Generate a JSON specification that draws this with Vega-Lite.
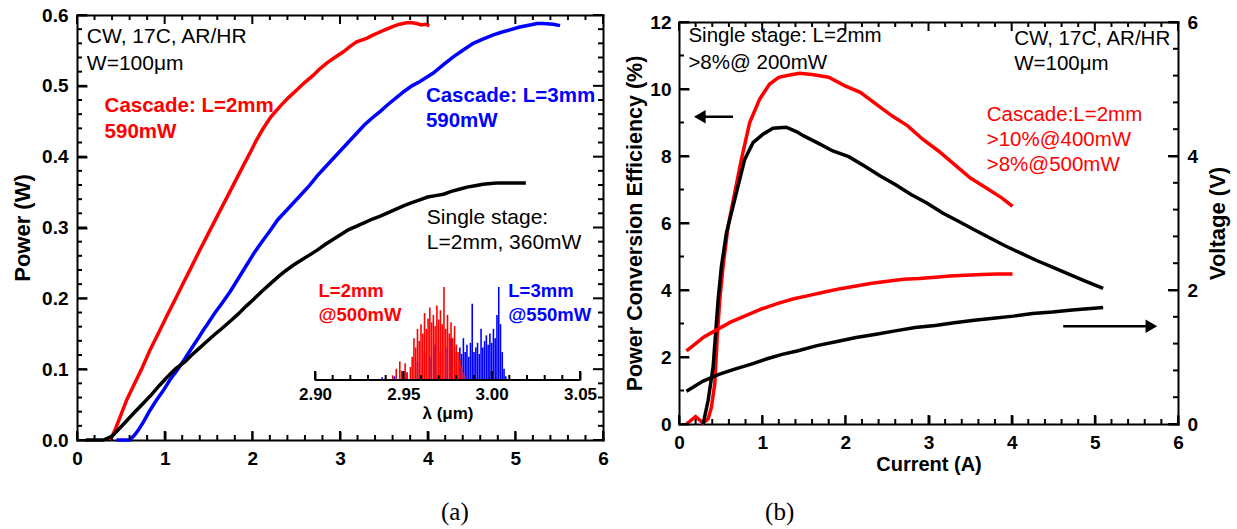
{
"$schema":"https://vega.github.io/schema/vega-lite/v6.json",
"background":"white",
"width":1237,"height":529,
"autosize":{"type":"none"},
"padding":0,
"config":{
  "font":"Liberation Sans",
  "view":{"stroke":null},
  "axis":{"grid":false,"zindex":1,"tickColor":"black","tickWidth":2,"domainColor":"black","domainWidth":2,"domainCap":"square","labelFont":"Liberation Sans","labelFontSize":19,"labelFontWeight":"bold","labelColor":"black","titleFont":"Liberation Sans","titleFontSize":22,"titleFontWeight":"bold","titleColor":"black"},
  "text":{"font":"Liberation Sans"}
},
"datasets":{
  "xmaj":[{"x":0},{"x":1},{"x":2},{"x":3},{"x":4},{"x":5},{"x":6}],
  "xmin":[{"x":0.2},{"x":0.4},{"x":0.6},{"x":0.8},{"x":1.2},{"x":1.4},{"x":1.6},{"x":1.8},{"x":2.2},{"x":2.4},{"x":2.6},{"x":2.8},{"x":3.2},{"x":3.4},{"x":3.6},{"x":3.8},{"x":4.2},{"x":4.4},{"x":4.6},{"x":4.8},{"x":5.2},{"x":5.4},{"x":5.6},{"x":5.8}],
  "yamaj":[{"y":0},{"y":0.1},{"y":0.2},{"y":0.3},{"y":0.4},{"y":0.5},{"y":0.6}],
  "yamin":[{"y":0.02},{"y":0.04},{"y":0.06},{"y":0.08},{"y":0.12},{"y":0.14},{"y":0.16},{"y":0.18},{"y":0.22},{"y":0.24},{"y":0.26},{"y":0.28},{"y":0.32},{"y":0.34},{"y":0.36},{"y":0.38},{"y":0.42},{"y":0.44},{"y":0.46},{"y":0.48},{"y":0.52},{"y":0.54},{"y":0.56},{"y":0.58}],
  "ybmaj":[{"y":0},{"y":2},{"y":4},{"y":6},{"y":8},{"y":10},{"y":12}],
  "ybmin":[{"y":1},{"y":3},{"y":5},{"y":7},{"y":9},{"y":11}],
  "ybrmaj":[{"y":0},{"y":4},{"y":8},{"y":12}],
  "ybrmin":[{"y":0.8},{"y":1.6},{"y":2.4},{"y":3.2},{"y":4.8},{"y":5.6},{"y":6.4},{"y":7.2},{"y":8.8},{"y":9.6},{"y":10.4},{"y":11.2}],
  "lmaj":[{"lam":2.9},{"lam":2.95},{"lam":3.0},{"lam":3.05}],
  "lmin":[{"lam":2.91},{"lam":2.92},{"lam":2.93},{"lam":2.94},{"lam":2.96},{"lam":2.97},{"lam":2.98},{"lam":2.99},{"lam":3.01},{"lam":3.02},{"lam":3.03},{"lam":3.04}],
  "curvesA":[
    {"s":"red","x":0.38,"y":0.0},{"s":"red","x":0.433,"y":0.014},{"s":"red","x":0.5,"y":0.035},{"s":"red","x":0.567,"y":0.0565},{"s":"red","x":0.65,"y":0.078},{"s":"red","x":0.74,"y":0.101},{"s":"red","x":0.833,"y":0.127},{"s":"red","x":0.93,"y":0.151},{"s":"red","x":1.02,"y":0.174},{"s":"red","x":1.118,"y":0.198},{"s":"red","x":1.21,"y":0.221},{"s":"red","x":1.3,"y":0.243},{"s":"red","x":1.4,"y":0.268},{"s":"red","x":1.5,"y":0.292},{"s":"red","x":1.6,"y":0.316},{"s":"red","x":1.7,"y":0.34},{"s":"red","x":1.8,"y":0.364},{"s":"red","x":1.9,"y":0.388},{"s":"red","x":1.98,"y":0.407},{"s":"red","x":2.05,"y":0.424},{"s":"red","x":2.12,"y":0.439},{"s":"red","x":2.21,"y":0.456},{"s":"red","x":2.316,"y":0.471},{"s":"red","x":2.41,"y":0.483},{"s":"red","x":2.506,"y":0.494},{"s":"red","x":2.6,"y":0.505},{"s":"red","x":2.696,"y":0.515},{"s":"red","x":2.77,"y":0.524},{"s":"red","x":2.848,"y":0.532},{"s":"red","x":2.94,"y":0.54},{"s":"red","x":3.038,"y":0.548},{"s":"red","x":3.12,"y":0.556},{"s":"red","x":3.19,"y":0.562},{"s":"red","x":3.304,"y":0.567},{"s":"red","x":3.38,"y":0.572},{"s":"red","x":3.456,"y":0.576},{"s":"red","x":3.53,"y":0.58},{"s":"red","x":3.608,"y":0.584},{"s":"red","x":3.68,"y":0.587},{"s":"red","x":3.76,"y":0.589},{"s":"red","x":3.82,"y":0.589},{"s":"red","x":3.875,"y":0.588},{"s":"red","x":3.93,"y":0.586},{"s":"red","x":3.97,"y":0.587},{"s":"red","x":4.02,"y":0.585},
    {"s":"blue","x":0.45,"y":0.0},{"s":"blue","x":0.6,"y":0.0},{"s":"blue","x":0.65,"y":0.006},{"s":"blue","x":0.7,"y":0.014},{"s":"blue","x":0.76,"y":0.026},{"s":"blue","x":0.833,"y":0.042},{"s":"blue","x":0.9,"y":0.055},{"s":"blue","x":0.98,"y":0.069},{"s":"blue","x":1.061,"y":0.085},{"s":"blue","x":1.15,"y":0.1},{"s":"blue","x":1.232,"y":0.115},{"s":"blue","x":1.32,"y":0.132},{"s":"blue","x":1.39,"y":0.145},{"s":"blue","x":1.44,"y":0.155},{"s":"blue","x":1.48,"y":0.162},{"s":"blue","x":1.57,"y":0.179},{"s":"blue","x":1.66,"y":0.194},{"s":"blue","x":1.75,"y":0.21},{"s":"blue","x":1.84,"y":0.228},{"s":"blue","x":1.93,"y":0.246},{"s":"blue","x":2.02,"y":0.264},{"s":"blue","x":2.11,"y":0.28},{"s":"blue","x":2.2,"y":0.295},{"s":"blue","x":2.29,"y":0.311},{"s":"blue","x":2.38,"y":0.323},{"s":"blue","x":2.47,"y":0.335},{"s":"blue","x":2.56,"y":0.347},{"s":"blue","x":2.65,"y":0.359},{"s":"blue","x":2.74,"y":0.373},{"s":"blue","x":2.83,"y":0.385},{"s":"blue","x":2.92,"y":0.397},{"s":"blue","x":3.01,"y":0.409},{"s":"blue","x":3.1,"y":0.421},{"s":"blue","x":3.19,"y":0.433},{"s":"blue","x":3.28,"y":0.445},{"s":"blue","x":3.37,"y":0.455},{"s":"blue","x":3.46,"y":0.464},{"s":"blue","x":3.55,"y":0.474},{"s":"blue","x":3.64,"y":0.483},{"s":"blue","x":3.73,"y":0.492},{"s":"blue","x":3.82,"y":0.5},{"s":"blue","x":3.912,"y":0.506},{"s":"blue","x":4.064,"y":0.518},{"s":"blue","x":4.18,"y":0.53},{"s":"blue","x":4.292,"y":0.541},{"s":"blue","x":4.41,"y":0.551},{"s":"blue","x":4.52,"y":0.56},{"s":"blue","x":4.63,"y":0.566},{"s":"blue","x":4.749,"y":0.572},{"s":"blue","x":4.85,"y":0.576},{"s":"blue","x":4.939,"y":0.579},{"s":"blue","x":5.05,"y":0.583},{"s":"blue","x":5.167,"y":0.586},{"s":"blue","x":5.25,"y":0.588},{"s":"blue","x":5.319,"y":0.588},{"s":"blue","x":5.433,"y":0.587},{"s":"blue","x":5.51,"y":0.585},
    {"s":"black","x":0.1,"y":0.0},{"s":"black","x":0.2,"y":0.0},{"s":"black","x":0.3,"y":0.0},{"s":"black","x":0.396,"y":0.005},{"s":"black","x":0.49,"y":0.017},{"s":"black","x":0.58,"y":0.029},{"s":"black","x":0.67,"y":0.041},{"s":"black","x":0.756,"y":0.052},{"s":"black","x":0.85,"y":0.064},{"s":"black","x":0.94,"y":0.077},{"s":"black","x":1.03,"y":0.089},{"s":"black","x":1.12,"y":0.1},{"s":"black","x":1.232,"y":0.1106},{"s":"black","x":1.3,"y":0.119},{"s":"black","x":1.39,"y":0.129},{"s":"black","x":1.48,"y":0.139},{"s":"black","x":1.57,"y":0.149},{"s":"black","x":1.63,"y":0.155},{"s":"black","x":1.75,"y":0.168},{"s":"black","x":1.84,"y":0.178},{"s":"black","x":1.93,"y":0.189},{"s":"black","x":2.01,"y":0.198},{"s":"black","x":2.11,"y":0.21},{"s":"black","x":2.2,"y":0.22},{"s":"black","x":2.29,"y":0.23},{"s":"black","x":2.38,"y":0.239},{"s":"black","x":2.47,"y":0.247},{"s":"black","x":2.56,"y":0.254},{"s":"black","x":2.65,"y":0.261},{"s":"black","x":2.74,"y":0.268},{"s":"black","x":2.83,"y":0.276},{"s":"black","x":2.92,"y":0.283},{"s":"black","x":3.01,"y":0.29},{"s":"black","x":3.1,"y":0.297},{"s":"black","x":3.19,"y":0.302},{"s":"black","x":3.28,"y":0.307},{"s":"black","x":3.37,"y":0.312},{"s":"black","x":3.46,"y":0.316},{"s":"black","x":3.55,"y":0.321},{"s":"black","x":3.64,"y":0.326},{"s":"black","x":3.73,"y":0.331},{"s":"black","x":3.82,"y":0.335},{"s":"black","x":3.91,"y":0.339},{"s":"black","x":4.0,"y":0.343},{"s":"black","x":4.09,"y":0.345},{"s":"black","x":4.18,"y":0.347},{"s":"black","x":4.27,"y":0.351},{"s":"black","x":4.36,"y":0.354},{"s":"black","x":4.45,"y":0.357},{"s":"black","x":4.54,"y":0.359},{"s":"black","x":4.63,"y":0.361},{"s":"black","x":4.72,"y":0.362},{"s":"black","x":4.81,"y":0.363},{"s":"black","x":4.9,"y":0.363},{"s":"black","x":5.0,"y":0.363},{"s":"black","x":5.12,"y":0.363}
  ],
  "spectra":[
    {"s":"blue","lam":2.938,"h":0.03},{"s":"blue","lam":2.945,"h":0.04},{"s":"blue","lam":2.952,"h":0.08},{"s":"blue","lam":2.958,"h":0.2},{"s":"blue","lam":2.962,"h":0.3},{"s":"blue","lam":2.965,"h":0.25},{"s":"blue","lam":2.968,"h":0.38},{"s":"blue","lam":2.971,"h":0.3},{"s":"blue","lam":2.974,"h":0.35},{"s":"blue","lam":2.977,"h":0.45},{"s":"blue","lam":2.98,"h":0.3},{"s":"blue","lam":2.982,"h":0.35},{"s":"blue","lam":2.983,"h":0.28},{"s":"blue","lam":2.984,"h":0.45},{"s":"blue","lam":2.985,"h":0.3},{"s":"blue","lam":2.986,"h":0.38},{"s":"blue","lam":2.987,"h":0.25},{"s":"blue","lam":2.988,"h":0.4},{"s":"blue","lam":2.989,"h":0.82},{"s":"blue","lam":2.99,"h":0.3},{"s":"blue","lam":2.991,"h":0.35},{"s":"blue","lam":2.992,"h":0.4},{"s":"blue","lam":2.993,"h":0.28},{"s":"blue","lam":2.994,"h":0.55},{"s":"blue","lam":2.995,"h":0.35},{"s":"blue","lam":2.996,"h":0.42},{"s":"blue","lam":2.997,"h":0.48},{"s":"blue","lam":2.998,"h":0.38},{"s":"blue","lam":2.999,"h":0.5},{"s":"blue","lam":3.0,"h":0.4},{"s":"blue","lam":3.001,"h":0.55},{"s":"blue","lam":3.002,"h":0.45},{"s":"blue","lam":3.003,"h":0.7},{"s":"blue","lam":3.004,"h":1.0},{"s":"blue","lam":3.005,"h":0.6},{"s":"blue","lam":3.006,"h":0.3},{"s":"blue","lam":3.007,"h":0.12},{"s":"blue","lam":3.008,"h":0.04},
    {"s":"red","lam":2.944,"h":0.05},{"s":"red","lam":2.946,"h":0.12},{"s":"red","lam":2.948,"h":0.2},{"s":"red","lam":2.949,"h":0.1},{"s":"red","lam":2.951,"h":0.18},{"s":"red","lam":2.952,"h":0.08},{"s":"red","lam":2.954,"h":0.14},{"s":"red","lam":2.955,"h":0.25},{"s":"red","lam":2.956,"h":0.45},{"s":"red","lam":2.957,"h":0.35},{"s":"red","lam":2.958,"h":0.55},{"s":"red","lam":2.959,"h":0.42},{"s":"red","lam":2.96,"h":0.6},{"s":"red","lam":2.961,"h":0.5},{"s":"red","lam":2.962,"h":0.72},{"s":"red","lam":2.963,"h":0.55},{"s":"red","lam":2.964,"h":0.66},{"s":"red","lam":2.965,"h":0.78},{"s":"red","lam":2.966,"h":0.62},{"s":"red","lam":2.967,"h":0.7},{"s":"red","lam":2.968,"h":0.58},{"s":"red","lam":2.969,"h":0.8},{"s":"red","lam":2.97,"h":0.65},{"s":"red","lam":2.971,"h":0.75},{"s":"red","lam":2.972,"h":0.6},{"s":"red","lam":2.973,"h":1.0},{"s":"red","lam":2.974,"h":0.55},{"s":"red","lam":2.975,"h":0.7},{"s":"red","lam":2.976,"h":0.5},{"s":"red","lam":2.977,"h":0.62},{"s":"red","lam":2.978,"h":0.45},{"s":"red","lam":2.979,"h":0.58},{"s":"red","lam":2.98,"h":0.38},{"s":"red","lam":2.981,"h":0.3},{"s":"red","lam":2.982,"h":0.22},{"s":"red","lam":2.983,"h":0.15},{"s":"red","lam":2.984,"h":0.08},{"s":"red","lam":2.985,"h":0.04}
  ],
  "curvesB":[
    {"s":"red","x":0.09,"y":0},{"s":"red","x":0.2,"y":0.22},{"s":"red","x":0.29,"y":0.03},{"s":"red","x":0.35,"y":0.15},{"s":"red","x":0.39,"y":0.5},{"s":"red","x":0.43,"y":1.2},{"s":"red","x":0.46,"y":2.6},{"s":"red","x":0.49,"y":3.7},{"s":"red","x":0.53,"y":4.7},{"s":"red","x":0.59,"y":5.9},{"s":"red","x":0.67,"y":6.9},{"s":"red","x":0.75,"y":7.9},{"s":"red","x":0.85,"y":9.0},{"s":"red","x":0.97,"y":9.7},{"s":"red","x":1.09,"y":10.15},{"s":"red","x":1.2,"y":10.35},{"s":"red","x":1.33,"y":10.42},{"s":"red","x":1.45,"y":10.47},{"s":"red","x":1.6,"y":10.43},{"s":"red","x":1.8,"y":10.35},{"s":"red","x":1.99,"y":10.1},{"s":"red","x":2.18,"y":9.9},{"s":"red","x":2.37,"y":9.55},{"s":"red","x":2.56,"y":9.2},{"s":"red","x":2.75,"y":8.9},{"s":"red","x":2.93,"y":8.5},{"s":"red","x":3.12,"y":8.15},{"s":"red","x":3.31,"y":7.75},{"s":"red","x":3.5,"y":7.35},{"s":"red","x":3.69,"y":7.05},{"s":"red","x":3.88,"y":6.75},{"s":"red","x":4.01,"y":6.5},
    {"s":"black","x":0.29,"y":0},{"s":"black","x":0.35,"y":0.7},{"s":"black","x":0.41,"y":1.7},{"s":"black","x":0.47,"y":3.7},{"s":"black","x":0.51,"y":4.7},{"s":"black","x":0.57,"y":5.7},{"s":"black","x":0.63,"y":6.3},{"s":"black","x":0.71,"y":7.1},{"s":"black","x":0.79,"y":7.9},{"s":"black","x":0.89,"y":8.4},{"s":"black","x":1.01,"y":8.65},{"s":"black","x":1.13,"y":8.83},{"s":"black","x":1.29,"y":8.86},{"s":"black","x":1.41,"y":8.73},{"s":"black","x":1.5,"y":8.6},{"s":"black","x":1.66,"y":8.4},{"s":"black","x":1.85,"y":8.15},{"s":"black","x":2.04,"y":7.98},{"s":"black","x":2.23,"y":7.7},{"s":"black","x":2.42,"y":7.4},{"s":"black","x":2.6,"y":7.15},{"s":"black","x":2.79,"y":6.85},{"s":"black","x":2.98,"y":6.6},{"s":"black","x":3.17,"y":6.3},{"s":"black","x":3.36,"y":6.05},{"s":"black","x":3.55,"y":5.8},{"s":"black","x":3.74,"y":5.55},{"s":"black","x":3.92,"y":5.32},{"s":"black","x":4.11,"y":5.1},{"s":"black","x":4.3,"y":4.88},{"s":"black","x":4.49,"y":4.68},{"s":"black","x":4.68,"y":4.48},{"s":"black","x":4.87,"y":4.28},{"s":"black","x":5.1,"y":4.05}
  ],
  "voltB":[
    {"s":"red","I":0.09,"V":1.09},{"s":"red","I":0.2,"V":1.2},{"s":"red","I":0.3,"V":1.3},{"s":"red","I":0.43,"V":1.39},{"s":"red","I":0.62,"V":1.52},{"s":"red","I":0.81,"V":1.62},{"s":"red","I":1.0,"V":1.72},{"s":"red","I":1.19,"V":1.8},{"s":"red","I":1.38,"V":1.87},{"s":"red","I":1.57,"V":1.92},{"s":"red","I":1.75,"V":1.97},{"s":"red","I":1.94,"V":2.02},{"s":"red","I":2.13,"V":2.06},{"s":"red","I":2.32,"V":2.1},{"s":"red","I":2.51,"V":2.13},{"s":"red","I":2.7,"V":2.16},{"s":"red","I":2.89,"V":2.17},{"s":"red","I":3.08,"V":2.19},{"s":"red","I":3.26,"V":2.21},{"s":"red","I":3.45,"V":2.22},{"s":"red","I":3.64,"V":2.23},{"s":"red","I":3.83,"V":2.24},{"s":"red","I":4.01,"V":2.24},
    {"s":"black","I":0.09,"V":0.49},{"s":"black","I":0.29,"V":0.64},{"s":"black","I":0.48,"V":0.74},{"s":"black","I":0.67,"V":0.82},{"s":"black","I":0.86,"V":0.89},{"s":"black","I":1.05,"V":0.97},{"s":"black","I":1.24,"V":1.04},{"s":"black","I":1.42,"V":1.09},{"s":"black","I":1.66,"V":1.17},{"s":"black","I":1.9,"V":1.23},{"s":"black","I":2.13,"V":1.29},{"s":"black","I":2.37,"V":1.34},{"s":"black","I":2.6,"V":1.39},{"s":"black","I":2.84,"V":1.44},{"s":"black","I":3.08,"V":1.47},{"s":"black","I":3.31,"V":1.51},{"s":"black","I":3.55,"V":1.55},{"s":"black","I":3.78,"V":1.58},{"s":"black","I":4.02,"V":1.61},{"s":"black","I":4.25,"V":1.65},{"s":"black","I":4.49,"V":1.67},{"s":"black","I":4.73,"V":1.7},{"s":"black","I":5.1,"V":1.74}
  ]
},
"layer":[
 {"layer":[
   {"data":{"name":"curvesA"},"mark":{"type":"line","strokeWidth":3.5},
    "encoding":{
     "x":{"field":"x","type":"quantitative","scale":{"domain":[0,6],"range":[77,603],"nice":false,"zero":false},
          "axis":{"orient":"bottom","title":null,"domain":false,"labelFlush":false,"values":[0,1,2,3,4,5,6],"format":"d","offset":-98,"tickSize":9,"labelPadding":9}},
     "y":{"field":"y","type":"quantitative","scale":{"domain":[0,0.6],"range":[440,15],"nice":false,"zero":false},
          "axis":{"orient":"left","title":"Power (W)","domain":false,"values":[0,0.1,0.2,0.3,0.4,0.5,0.6],"format":".1f","offset":-87,"tickSize":10,"labelPadding":9,"titlePadding":7}},
     "color":{"field":"s","type":"nominal","scale":{"domain":["red","blue","black"],"range":["#ff0000","#0000ff","#000000"]},"legend":null}
    }},
   {"data":{"name":"xmaj"},"mark":{"type":"rule","color":"black","strokeWidth":2},
    "encoding":{"x":{"field":"x","type":"quantitative","scale":{"domain":[0,6],"range":[77,603],"nice":false,"zero":false}},"y":{"datum":0,"type":"quantitative","scale":{"domain":[0,0.6],"range":[440,15],"nice":false,"zero":false}},"y2":{"datum":0.0127}}},
   {"data":{"name":"xmin"},"mark":{"type":"rule","color":"black","strokeWidth":2},
    "encoding":{"x":{"field":"x","type":"quantitative","scale":{"domain":[0,6],"range":[77,603],"nice":false,"zero":false}},"y":{"datum":0,"type":"quantitative","scale":{"domain":[0,0.6],"range":[440,15],"nice":false,"zero":false}},"y2":{"datum":0.00706}}},
   {"data":{"name":"xmaj"},"mark":{"type":"rule","color":"black","strokeWidth":2},
    "encoding":{"x":{"field":"x","type":"quantitative","scale":{"domain":[0,6],"range":[77,603],"nice":false,"zero":false}},"y":{"datum":0.6,"type":"quantitative","scale":{"domain":[0,0.6],"range":[440,15],"nice":false,"zero":false}},"y2":{"datum":0.5873}}},
   {"data":{"name":"xmin"},"mark":{"type":"rule","color":"black","strokeWidth":2},
    "encoding":{"x":{"field":"x","type":"quantitative","scale":{"domain":[0,6],"range":[77,603],"nice":false,"zero":false}},"y":{"datum":0.6,"type":"quantitative","scale":{"domain":[0,0.6],"range":[440,15],"nice":false,"zero":false}},"y2":{"datum":0.59294}}},
   {"data":{"name":"yamaj"},"mark":{"type":"rule","color":"black","strokeWidth":2},
    "encoding":{"y":{"field":"y","type":"quantitative","scale":{"domain":[0,0.6],"range":[440,15],"nice":false,"zero":false}},"x":{"datum":0,"type":"quantitative","scale":{"domain":[0,6],"range":[77,603],"nice":false,"zero":false}},"x2":{"datum":0.1141}}},
   {"data":{"name":"yamin"},"mark":{"type":"rule","color":"black","strokeWidth":2},
    "encoding":{"y":{"field":"y","type":"quantitative","scale":{"domain":[0,0.6],"range":[440,15],"nice":false,"zero":false}},"x":{"datum":0,"type":"quantitative","scale":{"domain":[0,6],"range":[77,603],"nice":false,"zero":false}},"x2":{"datum":0.057}}},
   {"data":{"name":"yamaj"},"mark":{"type":"rule","color":"black","strokeWidth":2},
    "encoding":{"y":{"field":"y","type":"quantitative","scale":{"domain":[0,0.6],"range":[440,15],"nice":false,"zero":false}},"x":{"datum":6,"type":"quantitative","scale":{"domain":[0,6],"range":[77,603],"nice":false,"zero":false}},"x2":{"datum":5.8859}}},
   {"data":{"name":"yamin"},"mark":{"type":"rule","color":"black","strokeWidth":2},
    "encoding":{"y":{"field":"y","type":"quantitative","scale":{"domain":[0,0.6],"range":[440,15],"nice":false,"zero":false}},"x":{"datum":6,"type":"quantitative","scale":{"domain":[0,6],"range":[77,603],"nice":false,"zero":false}},"x2":{"datum":5.943}}},
   {"data":{"values":[{"t":"CW, 17C, AR/HR","x":0.112,"y":0.569},{"t":"W=100μm","x":0.112,"y":0.531},{"t":"Single stage:","x":3.99,"y":0.314},{"t":"L=2mm, 360mW","x":3.99,"y":0.278}]},
    "mark":{"type":"text","align":"left","baseline":"middle","fontSize":21,"color":"black"},
    "encoding":{"x":{"field":"x","type":"quantitative","scale":{"domain":[0,6],"range":[77,603],"nice":false,"zero":false}},"y":{"field":"y","type":"quantitative","scale":{"domain":[0,0.6],"range":[440,15],"nice":false,"zero":false}},"text":{"field":"t"}}},
   {"data":{"values":[{"t":"Cascade: L=2mm","x":0.315,"y":0.471},{"t":"590mW","x":0.315,"y":0.435}]},
    "mark":{"type":"text","align":"left","baseline":"middle","fontSize":20.5,"fontWeight":"bold","color":"#ff0000"},
    "encoding":{"x":{"field":"x","type":"quantitative","scale":{"domain":[0,6],"range":[77,603],"nice":false,"zero":false}},"y":{"field":"y","type":"quantitative","scale":{"domain":[0,0.6],"range":[440,15],"nice":false,"zero":false}},"text":{"field":"t"}}},
   {"data":{"values":[{"t":"Cascade: L=3mm","x":3.98,"y":0.485},{"t":"590mW","x":3.98,"y":0.45}]},
    "mark":{"type":"text","align":"left","baseline":"middle","fontSize":20.5,"fontWeight":"bold","color":"#0000ff"},
    "encoding":{"x":{"field":"x","type":"quantitative","scale":{"domain":[0,6],"range":[77,603],"nice":false,"zero":false}},"y":{"field":"y","type":"quantitative","scale":{"domain":[0,0.6],"range":[440,15],"nice":false,"zero":false}},"text":{"field":"t"}}},
   {"data":{"values":[{"t":"L=2mm","x":2.755,"y":0.211},{"t":"@500mW","x":2.755,"y":0.176}]},
    "mark":{"type":"text","align":"left","baseline":"middle","fontSize":18.5,"fontWeight":"bold","color":"#ff0000"},
    "encoding":{"x":{"field":"x","type":"quantitative","scale":{"domain":[0,6],"range":[77,603],"nice":false,"zero":false}},"y":{"field":"y","type":"quantitative","scale":{"domain":[0,0.6],"range":[440,15],"nice":false,"zero":false}},"text":{"field":"t"}}},
   {"data":{"values":[{"t":"L=3mm","x":4.92,"y":0.211},{"t":"@550mW","x":4.92,"y":0.176}]},
    "mark":{"type":"text","align":"left","baseline":"middle","fontSize":18.5,"fontWeight":"bold","color":"#0000ff"},
    "encoding":{"x":{"field":"x","type":"quantitative","scale":{"domain":[0,6],"range":[77,603],"nice":false,"zero":false}},"y":{"field":"y","type":"quantitative","scale":{"domain":[0,0.6],"range":[440,15],"nice":false,"zero":false}},"text":{"field":"t"}}},
   {"data":{"values":[{"t":"(a)","x":4.31,"y":-0.102}]},
    "mark":{"type":"text","align":"center","baseline":"middle","fontSize":25,"font":"Liberation Serif","color":"black"},
    "encoding":{"x":{"field":"x","type":"quantitative","scale":{"domain":[0,6],"range":[77,603],"nice":false,"zero":false}},"y":{"field":"y","type":"quantitative","scale":{"domain":[0,0.6],"range":[440,15],"nice":false,"zero":false}},"text":{"field":"t"}}}
 ]},
 {"data":{"values":[{"x":0,"y":0}]},"mark":{"type":"point","opacity":0},
  "encoding":{
   "x":{"field":"x","type":"quantitative","scale":{"domain":[0,6],"range":[77,603],"nice":false,"zero":false},
        "axis":{"orient":"bottom","title":null,"domain":true,"ticks":false,"labels":false,"offset":-89}},
   "y":{"field":"y","type":"quantitative","scale":{"domain":[0,0.6],"range":[440,15],"nice":false,"zero":false},
        "axis":{"orient":"left","title":null,"domain":true,"ticks":false,"labels":false,"offset":-77}}
  }},
 {"data":{"values":[{"x":0,"y":0}]},"mark":{"type":"point","opacity":0},
  "encoding":{
   "x":{"field":"x","type":"quantitative","scale":{"domain":[0,6],"range":[77,603],"nice":false,"zero":false},
        "axis":{"orient":"top","title":null,"domain":true,"ticks":false,"labels":false,"offset":-15}},
   "y":{"field":"y","type":"quantitative","scale":{"domain":[0,0.6],"range":[440,15],"nice":false,"zero":false},
        "axis":{"orient":"right","title":null,"domain":true,"ticks":false,"labels":false,"offset":-634}}
  }},
 {"layer":[
   {"data":{"name":"spectra"},"mark":{"type":"rule","strokeWidth":1.6},
    "encoding":{
     "x":{"field":"lam","type":"quantitative","scale":{"domain":[2.9,3.05],"range":[315,580],"nice":false,"zero":false},
          "axis":{"orient":"bottom","title":"λ (μm)","domain":false,"labelFlush":false,"values":[2.9,2.95,3,3.05],"format":".2f","offset":-158,"tickSize":9,"labelPadding":6,"labelFontSize":17,"titleFontSize":17,"titlePadding":3}},
     "y":{"field":"h","type":"quantitative","scale":{"domain":[0,1],"range":[380,287],"nice":false,"zero":false},"axis":null},
     "y2":{"datum":0},
     "color":{"field":"s","type":"nominal","scale":{"domain":["red","blue","black"],"range":["#ff0000","#0000ff","#000000"]},"legend":null}
    }},
   {"data":{"values":[{}]},"mark":{"type":"rule","strokeWidth":2,"color":"black"},
    "encoding":{"x":{"datum":2.9,"type":"quantitative","scale":{"domain":[2.9,3.05],"range":[315,580],"nice":false,"zero":false}},"x2":{"datum":3.05},
                "y":{"datum":0,"type":"quantitative","scale":{"domain":[0,1],"range":[380,287],"nice":false,"zero":false}}}},
   {"data":{"name":"lmaj"},"mark":{"type":"rule","color":"black","strokeWidth":2},
    "encoding":{"x":{"field":"lam","type":"quantitative","scale":{"domain":[2.9,3.05],"range":[315,580],"nice":false,"zero":false}},"y":{"datum":0,"type":"quantitative","scale":{"domain":[0,1],"range":[380,287],"nice":false,"zero":false}},"y2":{"datum":0.0968}}},
   {"data":{"name":"lmin"},"mark":{"type":"rule","color":"black","strokeWidth":2},
    "encoding":{"x":{"field":"lam","type":"quantitative","scale":{"domain":[2.9,3.05],"range":[315,580],"nice":false,"zero":false}},"y":{"datum":0,"type":"quantitative","scale":{"domain":[0,1],"range":[380,287],"nice":false,"zero":false}},"y2":{"datum":0.0538}}}
 ]},
 {"layer":[
   {"data":{"name":"curvesB"},"mark":{"type":"line","strokeWidth":3.5},
    "encoding":{
     "x":{"field":"x","type":"quantitative","scale":{"domain":[0,6],"range":[679,1178],"nice":false,"zero":false},
          "axis":{"orient":"bottom","title":"Current (A)","domain":false,"labelFlush":false,"titleFontSize":20,"values":[0,1,2,3,4,5,6],"format":"d","offset":-114,"tickSize":9,"labelPadding":9,"titlePadding":2}},
     "y":{"field":"y","type":"quantitative","scale":{"domain":[0,12],"range":[424,22],"nice":false,"zero":false},
          "axis":{"orient":"left","title":"Power Conversion Efficiency (%)","domain":false,"titleFontSize":21.5,"values":[0,2,4,6,8,10,12],"format":"d","offset":-689,"tickSize":10,"labelPadding":8,"titlePadding":3}},
     "color":{"field":"s","type":"nominal","scale":{"domain":["red","blue","black"],"range":["#ff0000","#0000ff","#000000"]},"legend":null}
    }},
   {"data":{"name":"xmaj"},"mark":{"type":"rule","color":"black","strokeWidth":2},
    "encoding":{"x":{"field":"x","type":"quantitative","scale":{"domain":[0,6],"range":[679,1178],"nice":false,"zero":false}},"y":{"datum":0,"type":"quantitative","scale":{"domain":[0,12],"range":[424,22],"nice":false,"zero":false}},"y2":{"datum":0.2687}}},
   {"data":{"name":"xmin"},"mark":{"type":"rule","color":"black","strokeWidth":2},
    "encoding":{"x":{"field":"x","type":"quantitative","scale":{"domain":[0,6],"range":[679,1178],"nice":false,"zero":false}},"y":{"datum":0,"type":"quantitative","scale":{"domain":[0,12],"range":[424,22],"nice":false,"zero":false}},"y2":{"datum":0.1493}}},
   {"data":{"name":"xmaj"},"mark":{"type":"rule","color":"black","strokeWidth":2},
    "encoding":{"x":{"field":"x","type":"quantitative","scale":{"domain":[0,6],"range":[679,1178],"nice":false,"zero":false}},"y":{"datum":12,"type":"quantitative","scale":{"domain":[0,12],"range":[424,22],"nice":false,"zero":false}},"y2":{"datum":11.7313}}},
   {"data":{"name":"xmin"},"mark":{"type":"rule","color":"black","strokeWidth":2},
    "encoding":{"x":{"field":"x","type":"quantitative","scale":{"domain":[0,6],"range":[679,1178],"nice":false,"zero":false}},"y":{"datum":12,"type":"quantitative","scale":{"domain":[0,12],"range":[424,22],"nice":false,"zero":false}},"y2":{"datum":11.8507}}},
   {"data":{"name":"ybmaj"},"mark":{"type":"rule","color":"black","strokeWidth":2},
    "encoding":{"y":{"field":"y","type":"quantitative","scale":{"domain":[0,12],"range":[424,22],"nice":false,"zero":false}},"x":{"datum":0,"type":"quantitative","scale":{"domain":[0,6],"range":[679,1178],"nice":false,"zero":false}},"x2":{"datum":0.1202}}},
   {"data":{"name":"ybmin"},"mark":{"type":"rule","color":"black","strokeWidth":2},
    "encoding":{"y":{"field":"y","type":"quantitative","scale":{"domain":[0,12],"range":[424,22],"nice":false,"zero":false}},"x":{"datum":0,"type":"quantitative","scale":{"domain":[0,6],"range":[679,1178],"nice":false,"zero":false}},"x2":{"datum":0.0601}}},
   {"data":{"name":"ybrmaj"},"mark":{"type":"rule","color":"black","strokeWidth":2},
    "encoding":{"y":{"field":"y","type":"quantitative","scale":{"domain":[0,12],"range":[424,22],"nice":false,"zero":false}},"x":{"datum":6,"type":"quantitative","scale":{"domain":[0,6],"range":[679,1178],"nice":false,"zero":false}},"x2":{"datum":5.8798}}},
   {"data":{"name":"ybrmin"},"mark":{"type":"rule","color":"black","strokeWidth":2},
    "encoding":{"y":{"field":"y","type":"quantitative","scale":{"domain":[0,12],"range":[424,22],"nice":false,"zero":false}},"x":{"datum":6,"type":"quantitative","scale":{"domain":[0,6],"range":[679,1178],"nice":false,"zero":false}},"x2":{"datum":5.9399}}},
   {"data":{"values":[{"t":"Single stage: L=2mm","x":0.113,"y":11.57},{"t":">8%@ 200mW","x":0.113,"y":10.79},{"t":"CW, 17C, AR/HR","x":4.03,"y":11.5},{"t":"W=100μm","x":4.03,"y":10.74}]},
    "mark":{"type":"text","align":"left","baseline":"middle","fontSize":20.5,"color":"black"},
    "encoding":{"x":{"field":"x","type":"quantitative","scale":{"domain":[0,6],"range":[679,1178],"nice":false,"zero":false}},"y":{"field":"y","type":"quantitative","scale":{"domain":[0,12],"range":[424,22],"nice":false,"zero":false}},"text":{"field":"t"}}},
   {"data":{"values":[{"t":"Cascade:L=2mm","x":3.7,"y":9.21},{"t":">10%@400mW","x":3.7,"y":8.48},{"t":">8%@500mW","x":3.7,"y":7.74}]},
    "mark":{"type":"text","align":"left","baseline":"middle","fontSize":20.5,"color":"#ff0000"},
    "encoding":{"x":{"field":"x","type":"quantitative","scale":{"domain":[0,6],"range":[679,1178],"nice":false,"zero":false}},"y":{"field":"y","type":"quantitative","scale":{"domain":[0,12],"range":[424,22],"nice":false,"zero":false}},"text":{"field":"t"}}},
   {"data":{"values":[{"x":0.65,"x2":0.22,"y":9.17},{"x":4.62,"x2":5.7,"y":2.92}]},
    "mark":{"type":"rule","strokeWidth":2.5,"color":"black"},
    "encoding":{"x":{"field":"x","type":"quantitative","scale":{"domain":[0,6],"range":[679,1178],"nice":false,"zero":false}},"x2":{"field":"x2"},"y":{"field":"y","type":"quantitative","scale":{"domain":[0,12],"range":[424,22],"nice":false,"zero":false}}}},
   {"data":{"values":[{"x":0.25,"y":9.17,"dir":"left"},{"x":5.68,"y":2.92,"dir":"right"}]},
    "mark":{"type":"point","filled":true,"size":180,"color":"black","opacity":1},
    "encoding":{"x":{"field":"x","type":"quantitative","scale":{"domain":[0,6],"range":[679,1178],"nice":false,"zero":false}},"y":{"field":"y","type":"quantitative","scale":{"domain":[0,12],"range":[424,22],"nice":false,"zero":false}},
                "shape":{"field":"dir","type":"nominal","scale":{"domain":["left","right"],"range":["triangle-left","triangle-right"]},"legend":null}}},
   {"data":{"values":[{"t":"(b)","x":1.21,"y":-2.63}]},
    "mark":{"type":"text","align":"center","baseline":"middle","fontSize":25,"font":"Liberation Serif","color":"black"},
    "encoding":{"x":{"field":"x","type":"quantitative","scale":{"domain":[0,6],"range":[679,1178],"nice":false,"zero":false}},"y":{"field":"y","type":"quantitative","scale":{"domain":[0,12],"range":[424,22],"nice":false,"zero":false}},"text":{"field":"t"}}}
 ]},
 {"data":{"name":"voltB"},"mark":{"type":"line","strokeWidth":3.5},
  "encoding":{
   "x":{"field":"I","type":"quantitative","scale":{"domain":[0,6],"range":[679,1178],"nice":false,"zero":false},"axis":null},
   "y":{"field":"V","type":"quantitative","scale":{"domain":[0,6],"range":[424,22],"nice":false,"zero":false},
        "axis":{"orient":"right","title":"Voltage (V)","domain":false,"titleAngle":270,"titleBaseline":"top","values":[0,2,4,6],"format":"d","offset":-69,"tickSize":10,"labelPadding":9,"titlePadding":10}},
   "color":{"field":"s","type":"nominal","scale":{"domain":["red","blue","black"],"range":["#ff0000","#0000ff","#000000"]},"legend":null}
  }},
 {"data":{"values":[{"x":0,"y":0}]},"mark":{"type":"point","opacity":0},
  "encoding":{
   "x":{"field":"x","type":"quantitative","scale":{"domain":[0,6],"range":[679,1178],"nice":false,"zero":false},
        "axis":{"orient":"bottom","title":null,"domain":true,"ticks":false,"labels":false,"offset":-105}},
   "y":{"field":"y","type":"quantitative","scale":{"domain":[0,12],"range":[424,22],"nice":false,"zero":false},
        "axis":{"orient":"left","title":null,"domain":true,"ticks":false,"labels":false,"offset":-679}}
  }},
 {"data":{"values":[{"x":0,"y":0}]},"mark":{"type":"point","opacity":0},
  "encoding":{
   "x":{"field":"x","type":"quantitative","scale":{"domain":[0,6],"range":[679,1178],"nice":false,"zero":false},
        "axis":{"orient":"top","title":null,"domain":true,"ticks":false,"labels":false,"offset":-22}},
   "y":{"field":"y","type":"quantitative","scale":{"domain":[0,12],"range":[424,22],"nice":false,"zero":false},
        "axis":{"orient":"right","title":null,"domain":true,"ticks":false,"labels":false,"offset":-59}}
  }}
],
"resolve":{"scale":{"x":"independent","y":"independent"}}
}
